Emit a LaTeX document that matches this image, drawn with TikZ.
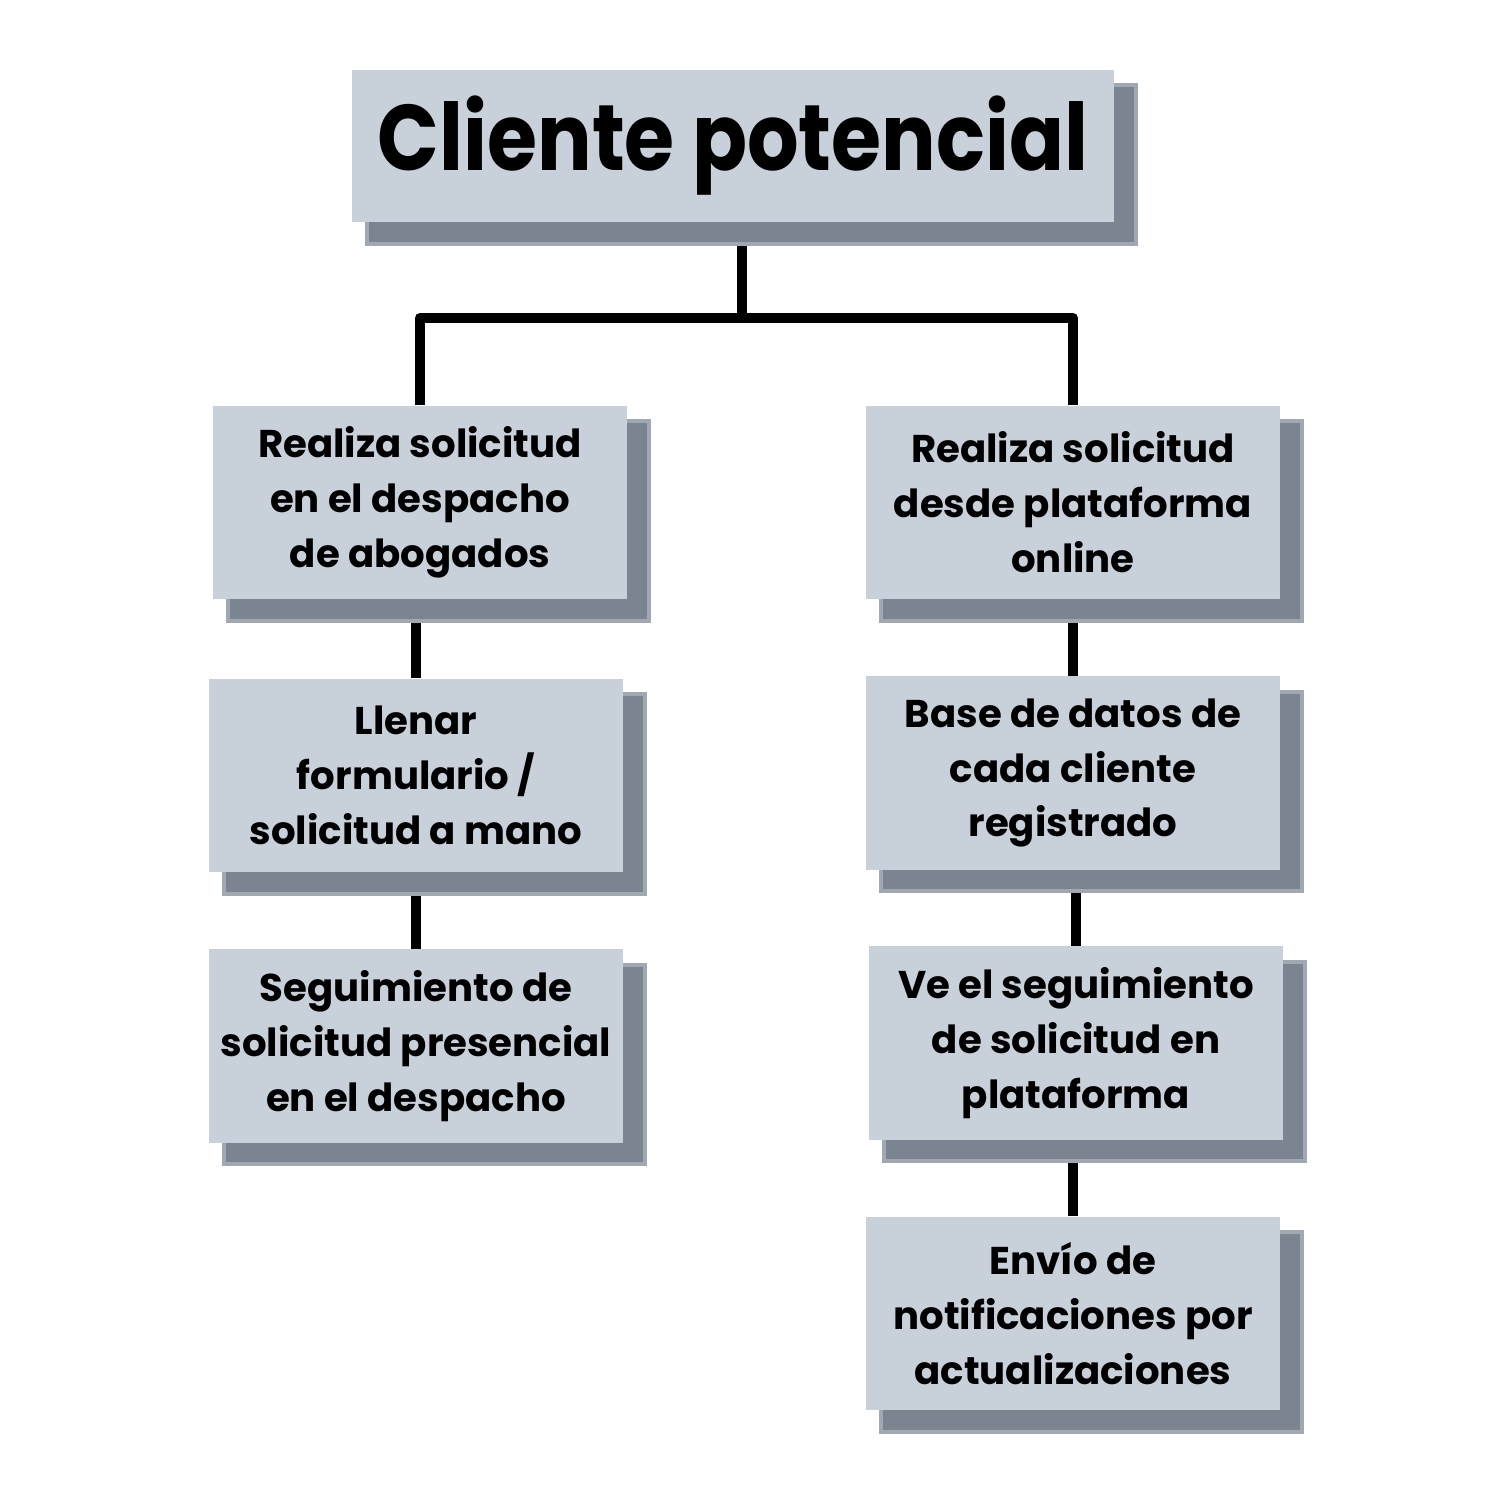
\documentclass[tikz,border=0pt]{standalone}
\usepackage{fontspec}
\setmainfont{Poppins}
\newfontfamily\titlefont{Poppins}[FakeStretch=0.87]
\usetikzlibrary{backgrounds}
\definecolor{boxfill}{HTML}{C8D0D9}
\definecolor{shadowfill}{HTML}{7A8591}
\definecolor{shadowedge}{HTML}{A0A9B2}
\tikzset{
  stepbox/.style={rectangle, fill=boxfill, inner sep=0pt, align=center,
    minimum width=4.14cm, minimum height=1.93cm,
    font=\fontsize{11}{15.6}\selectfont\bfseries},
  titlebox/.style={rectangle, fill=boxfill, inner sep=0pt, align=center,
    minimum width=7.62cm, minimum height=1.52cm,
    font=\titlefont\fontsize{26.5}{30}\selectfont\bfseries},
  shadowbox/.style={fill=shadowfill, draw=shadowedge, line width=1.1pt},
  conn/.style={draw=black, line width=2.9pt, line join=round}
}
\begin{document}
\begin{tikzpicture}[x=0.01cm,y=-0.01cm]
\useasboundingbox (0,0) rectangle (1500,1500);

\node[titlebox] (t) at (733,146) {Cliente potencial};

\node[stepbox] (L1) at (420,502.5) {Realiza solicitud\\en el despacho\\de abogados};
\node[stepbox] (L2) at (416,775.5) {Llenar\\formulario /\\solicitud a mano};
\node[stepbox] (L3) at (416,1046) {Seguimiento de\\solicitud presencial\\en el despacho};

\node[stepbox] (R1) at (1073,502.5) {Realiza solicitud\\desde plataforma\\online};
\node[stepbox] (R2) at (1073,773) {Base de datos de\\cada cliente\\registrado};
\node[stepbox] (R3) at (1076,1043) {Ve el seguimiento\\de solicitud en\\plataforma};
\node[stepbox] (R4) at (1073,1313.5) {Envío de\\notificaciones por\\actualizaciones};

\coordinate (j) at (742,318);

\begin{pgfonlayer}{background}
  \fill[white] (0,0) rectangle (1500,1500);
  \draw[conn] (t.south -| j) -- (j);
  \draw[conn] (L1.north) |- (j) -| (R1.north);
  \draw[conn] (L2.north) -- (L2.north |- L1.south);
  \draw[conn] (L3.north) -- (L3.north |- L2.south);
  \draw[conn] (R2.north) -- (R2.north |- R1.south);
  \draw[conn] (R3.north) -- (R3.north |- R2.south);
  \draw[conn] (R4.north) -- (R4.north |- R3.south);
  \foreach \n in {t,L1,L2,L3,R1,R2,R3,R4}{
    \draw[shadowbox] ([shift={(16,16)}]\n.north west) rectangle ([shift={(21,21)}]\n.south east);
  }
\end{pgfonlayer}
\end{tikzpicture}
\end{document}
